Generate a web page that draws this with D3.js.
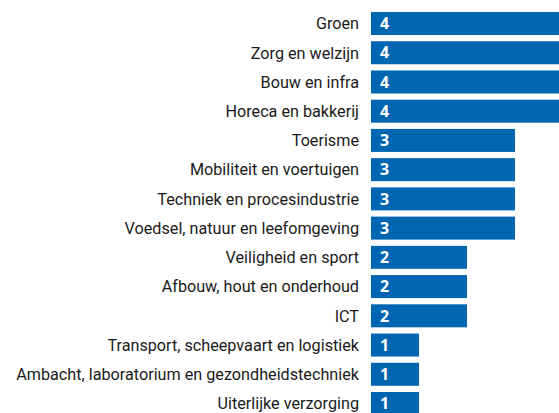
<!DOCTYPE html>
<html>
<head>
<meta charset="utf-8">
<script src="https://cdn.jsdelivr.net/npm/d3@7"></script>
<style>
  html, body { margin: 0; padding: 0; background: #fff; overflow: hidden; }
</style>
</head>
<body>
<div id="chart"></div>
<script>
const sectoren = [
  "Groen",
  "Zorg en welzijn",
  "Bouw en infra",
  "Horeca en bakkerij",
  "Toerisme",
  "Mobiliteit en voertuigen",
  "Techniek en procesindustrie",
  "Voedsel, natuur en leefomgeving",
  "Veiligheid en sport",
  "Afbouw, hout en onderhoud",
  "ICT",
  "Transport, scheepvaart en logistiek",
  "Ambacht, laboratorium en gezondheidstechniek",
  "Uiterlijke verzorging"
];
const waarden = [4, 4, 4, 4, 3, 3, 3, 3, 2, 2, 2, 1, 1, 1];

const width = 559;
const height = 413;

const svg = d3.select("#chart")
  .append("svg")
  .attr("width", width)
  .attr("height", height);

// schaal: 1 eenheid = 48px, balk van 4 loopt net buiten beeld
const x = d3.scaleLinear()
  .domain([0, 4])
  .range([371, 563]);

const y = d3.scaleBand()
  .domain(sectoren)
  .range([12, 415])
  .paddingInner(0.213)
  .paddingOuter(0);

const data = sectoren.map((s, i) => ({ sector: s, waarde: waarden[i] }));

svg.append("g")
  .selectAll("rect")
  .data(data)
  .enter()
  .append("rect")
  .attr("x", x(0))
  .attr("y", (d) => y(d.sector))
  .attr("width", (d) => x(d.waarde) - x(0))
  .attr("height", y.bandwidth())
  .attr("fill", "#0066b2");

// waarden in de balk
svg.append("g")
  .selectAll("text")
  .data(data)
  .enter()
  .append("text")
  .attr("x", x(0) + 9)
  .attr("y", (d) => y(d.sector) + y.bandwidth() / 2)
  .attr("dy", "0.36em")
  .attr("fill", "white")
  .style("font-family", "'Noto Sans', sans-serif")
  .style("font-weight", "bold")
  .style("font-size", "16px")
  .text((d) => d.waarde);

// categorie labels
svg.append("g")
  .selectAll("text")
  .data(data)
  .enter()
  .append("text")
  .attr("x", 359)
  .attr("y", (d) => y(d.sector) + y.bandwidth() / 2)
  .attr("dy", "0.36em")
  .attr("text-anchor", "end")
  .attr("fill", "#1a1a1a")
  .style("font-family", "Roboto, sans-serif")
  .style("font-size", "16.2px")
  .text((d) => d.sector);
</script>
</body>
</html>
